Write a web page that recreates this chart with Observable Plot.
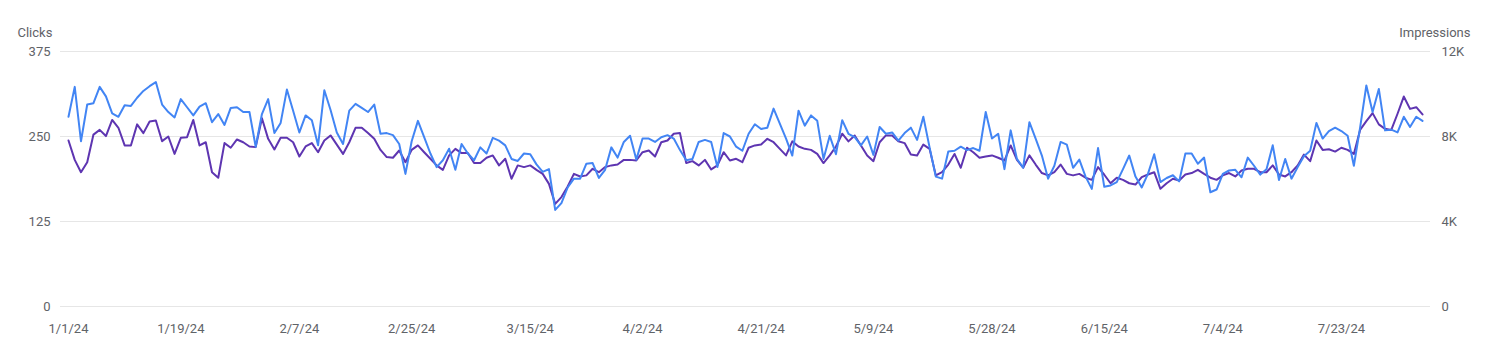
<!DOCTYPE html>
<html><head><meta charset="utf-8">
<script src="https://cdn.jsdelivr.net/npm/d3@7"></script>
<script src="https://cdn.jsdelivr.net/npm/@observablehq/plot@0.6"></script>
<style>
html,body{margin:0;padding:0;background:#fff;}
#chart{width:1485px;height:358px;}
#chart svg{font-family:Roboto,"Noto Sans",sans-serif;}
</style></head><body><div id="chart"></div>
<script>
const startDate = "2024-01-01";
const clicks = [279,323,243,297,299,323,309,284,279,296,295,307,317,324,330,297,286,278,305,293,
281,294,299,271,283,267,292,293,286,286,235,283,305,255,270,319,288,256,281,274,
237,318,289,256,239,288,298,292,286,297,254,255,252,239,195,243,273,249,225,205,
215,232,201,239,225,215,234,225,248,244,237,217,214,225,224,209,198,202,142,152,
175,188,188,210,211,189,201,234,219,242,251,216,247,247,242,249,252,247,230,215,
217,242,245,242,205,255,250,235,229,254,268,261,263,291,269,247,222,288,266,281,
273,217,251,224,274,254,249,237,250,223,264,254,256,244,255,263,245,279,234,191,
188,228,229,235,230,233,229,286,247,254,202,259,217,204,271,247,222,188,207,242,
238,204,216,191,173,233,176,178,183,202,222,191,175,195,224,183,189,193,184,225,
225,210,219,168,172,195,200,201,190,219,207,194,202,237,186,217,188,205,221,229,
270,247,258,263,258,251,207,263,325,286,320,259,260,256,279,264,279,273];
const impressions = [7810,6900,6320,6790,8090,8310,8020,8780,8410,7580,7580,8570,8160,8710,8750,7780,8000,7180,7940,7970,
8780,7580,7730,6320,6060,7690,7470,7860,7730,7530,7500,8860,7890,7390,7940,7940,7730,7060,7530,7690,
7260,7810,8050,7620,7180,7730,8410,8410,8160,7890,7370,7030,7000,7340,6790,7370,7580,7260,6950,6640,
6430,7110,7420,7220,7220,6750,6750,7000,7110,6640,6950,6010,6640,6560,6640,6430,6240,5770,4830,5150,
5650,6240,6120,6170,6480,6320,6560,6640,6680,6900,6900,6870,7260,7340,7060,7730,7810,8130,8160,6750,
6840,6640,6900,6450,6640,7260,6870,6950,6790,7470,7580,7620,7890,7730,7420,7110,7770,7530,7420,7370,
7180,6750,7110,7530,8130,7770,8050,7580,7110,6840,7730,8050,8050,7780,7690,7150,7110,7620,7420,6170,
6320,6680,7180,6530,7470,7260,7000,7060,7110,7000,6870,7580,6900,6530,7110,6680,6280,6170,6320,6680,
6240,6170,6240,6060,5960,6560,6200,5800,6060,5960,5800,5740,6090,6210,6320,5540,5800,6010,5930,6210,
6280,6430,6240,6060,5960,6170,6280,6120,6400,6480,6480,6320,6320,6640,6210,6120,6320,6640,7150,6840,
7810,7370,7400,7290,7470,7370,7180,8310,8720,9100,8570,8360,8310,9070,9880,9300,9380,9040];
const xTickDates = ["2024-01-01","2024-01-19","2024-02-07","2024-02-25","2024-03-15","2024-04-02",
"2024-04-21","2024-05-09","2024-05-28","2024-06-15","2024-07-04","2024-07-23"];
const clickTicks = [0,125,250,375];
const impressionTicks = [0,4000,8000,12000];
const clickMax = 375, impMax = 12000;
const leftTitle = "Clicks", rightTitle = "Impressions";

const start = new Date(startDate + "T00:00:00Z");
const rows = clicks.map((c, i) => ({date: d3.utcDay.offset(start, i), clicks: c, impressions: impressions[i]}));
const toClickScale = v => v * clickMax / impMax;
const fmtImp = v => v === 0 ? "0" : (v / 1000) + "K";
const textColor = "#5f6368";

const chart = Plot.plot({
  width: 1485,
  height: 358,
  marginTop: 51,
  marginBottom: 52,
  marginLeft: 60,
  marginRight: 55,
  style: {fontSize: "13px", color: textColor, fontFamily: "Roboto, sans-serif", background: "#fff"},
  x: {type: "utc", domain: [rows[0].date, rows[rows.length - 1].date], inset: 8},
  y: {domain: [0, clickMax]},
  marks: [
    Plot.ruleY(clickTicks, {stroke: "#e6e6e6", strokeWidth: 1}),
    Plot.axisY(clickTicks, {anchor: "left", tickSize: 0, tickPadding: 10, label: null, fill: textColor, fontSize: 13}),
    Plot.axisY(impressionTicks.map(toClickScale), {anchor: "right", tickSize: 0, tickPadding: 11, label: null, fill: textColor, fontSize: 13,
      tickFormat: d => fmtImp(Math.round(d * impMax / clickMax))}),
    Plot.axisX(xTickDates.map(d => new Date(d + "T00:00:00Z")), {tickSize: 0, tickPadding: 17, label: null, fill: textColor, fontSize: 13,
      tickFormat: d3.utcFormat("%-m/%-d/%y")}),
    Plot.text([leftTitle], {frameAnchor: "top-left", textAnchor: "start", dx: -43, dy: -24, fill: textColor, fontSize: 13}),
    Plot.text([rightTitle], {frameAnchor: "top-right", textAnchor: "end", dx: 40, dy: -24, fill: textColor, fontSize: 13}),
    Plot.line(rows, {x: "date", y: d => toClickScale(d.impressions), stroke: "#5e35b1", strokeWidth: 2}),
    Plot.line(rows, {x: "date", y: "clicks", stroke: "#4285f4", strokeWidth: 2})
  ]
});
document.getElementById("chart").appendChild(chart);
</script></body></html>
